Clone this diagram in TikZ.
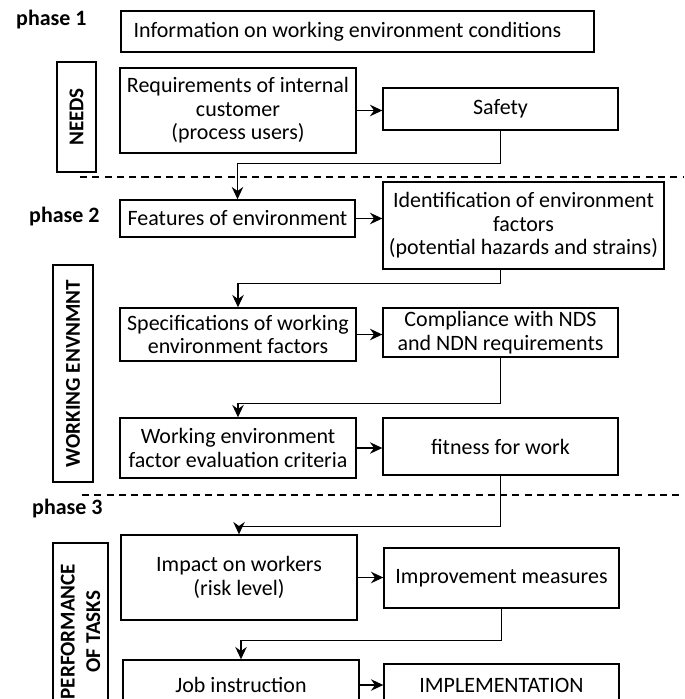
\documentclass[tikz,border=0pt]{standalone}
\usepackage{fontspec}
\setmainfont{Carlito}
\usetikzlibrary{arrows.meta}

\begin{document}
\begin{tikzpicture}[x=0.02cm, y=-0.02cm,
    every node/.style={font=\fontsize{12.5}{13.4}\selectfont},
    box/.style={draw, line width=0.8pt, align=center, inner sep=0pt},
    sidebox/.style={draw, line width=0.8pt, align=center, inner sep=0pt, rotate=90, font=\fontsize{12}{14.5}\selectfont\bfseries},
    flow/.style={-{Stealth[length=7pt,width=6.5pt]}, line width=0.8pt},
    phase/.style={anchor=west, font=\fontsize{12.5}{14}\selectfont\bfseries},
    sep/.style={dash pattern=on 4pt off 3pt, line width=0.6pt}]

    % Page
    \useasboundingbox (0,0) rectangle (684,699);
    \clip (0,0) rectangle (684,699);

	% Phase 1 - needs
    \node[phase] (ph1) at (10,20) {phase 1};
    \node[box, minimum width=9.46cm, minimum height=0.82cm] (info) at (357.5,31.5) {Information on working environment conditions\hspace{0.4cm}};
    \node[sidebox, minimum width=2.2cm, minimum height=0.78cm] (needs) at (76.5,117) {NEEDS};
    \node[box, minimum width=4.72cm, minimum height=1.70cm] (req) at (238,110.5) {Requirements of internal\\customer\\(process users)};
    \node[box, minimum width=4.70cm, minimum height=0.84cm] (safety) at (500.5,109) {Safety};

	% Phase 2 - working environment
    \node[phase] (ph2) at (23,217) {phase 2};
    \node[box, minimum width=4.70cm, minimum height=0.74cm] (feat) at (237.5,218.5) {Features of environment};
    \node[box, minimum width=5.62cm, minimum height=1.74cm] (ident) at (523.5,225.5) {Identification of environment\\factors\\(potential hazards and strains)};
    \node[sidebox, minimum width=4.34cm, minimum height=0.80cm] (work) at (73,373.5) {WORKING ENVNMNT};
    \node[box, minimum width=4.72cm, minimum height=1.06cm] (spec) at (238,334.5) {Specifications of working\\environment factors};
    \node[box, minimum width=4.70cm, minimum height=0.98cm] (compl) at (500.5,332.5) {Compliance with NDS\\and NDN requirements};
    \node[box, minimum width=4.72cm, minimum height=1.20cm] (crit) at (238,448) {Working environment\\factor evaluation criteria};
    \node[box, minimum width=4.70cm, minimum height=1.14cm] (fit) at (500.5,446.5) {fitness for work};

	% Phase 3 - performance of tasks
    \node[phase] (ph3) at (26,509) {phase 3};
    \node[sidebox, minimum width=3.54cm, minimum height=1.10cm] (perf) at (80.5,631.5) {PERFORMANCE\\OF TASKS};
    \node[box, minimum width=4.72cm, minimum height=1.70cm] (impact) at (239,577.5) {Impact on workers\\(risk level)};
    \node[box, minimum width=4.70cm, minimum height=1.20cm] (improv) at (501.5,578) {Improvement measures};
    \node[box, minimum width=4.72cm, minimum height=1.0cm] (job) at (241,685) {Job instruction};
    \node[box, minimum width=4.70cm, minimum height=0.84cm] (impl) at (501.5,685) {IMPLEMENTATION};

	% Phase borders
    \draw[sep] (80,177) coordinate (sep1_0) -- (684,177) coordinate (sep1_1);
    \draw[sep] (82,495) coordinate (sep2_0) -- (684,495) coordinate (sep2_1);

	% Flow
    \draw[flow] (req.east) -- (req.east -| safety.west);
    \draw[flow] (safety.south) -- ++(0,33) -| (feat.north);
    \draw[flow] (feat.east) -- (feat.east -| ident.west);
    \draw[flow] (ident.south -| compl.north) -- ++(0,14) -| (spec.north);
    \draw[flow] (spec.east) -- (spec.east -| compl.west);
    \draw[flow] (compl.south) -- ++(0,46) -| (crit.north);
    \draw[flow] (crit.east) -- (crit.east -| fit.west);
    \draw[flow] (fit.south) -- ++(0,51) -| (impact.north);
    \draw[flow] (impact.east) -- (impact.east -| improv.west);
    \draw[flow] (improv.south) -- ++(0,32) -| (job.north);
    \draw[flow] (job.east) -- (job.east -| impl.west);

\end{tikzpicture}
\end{document}
